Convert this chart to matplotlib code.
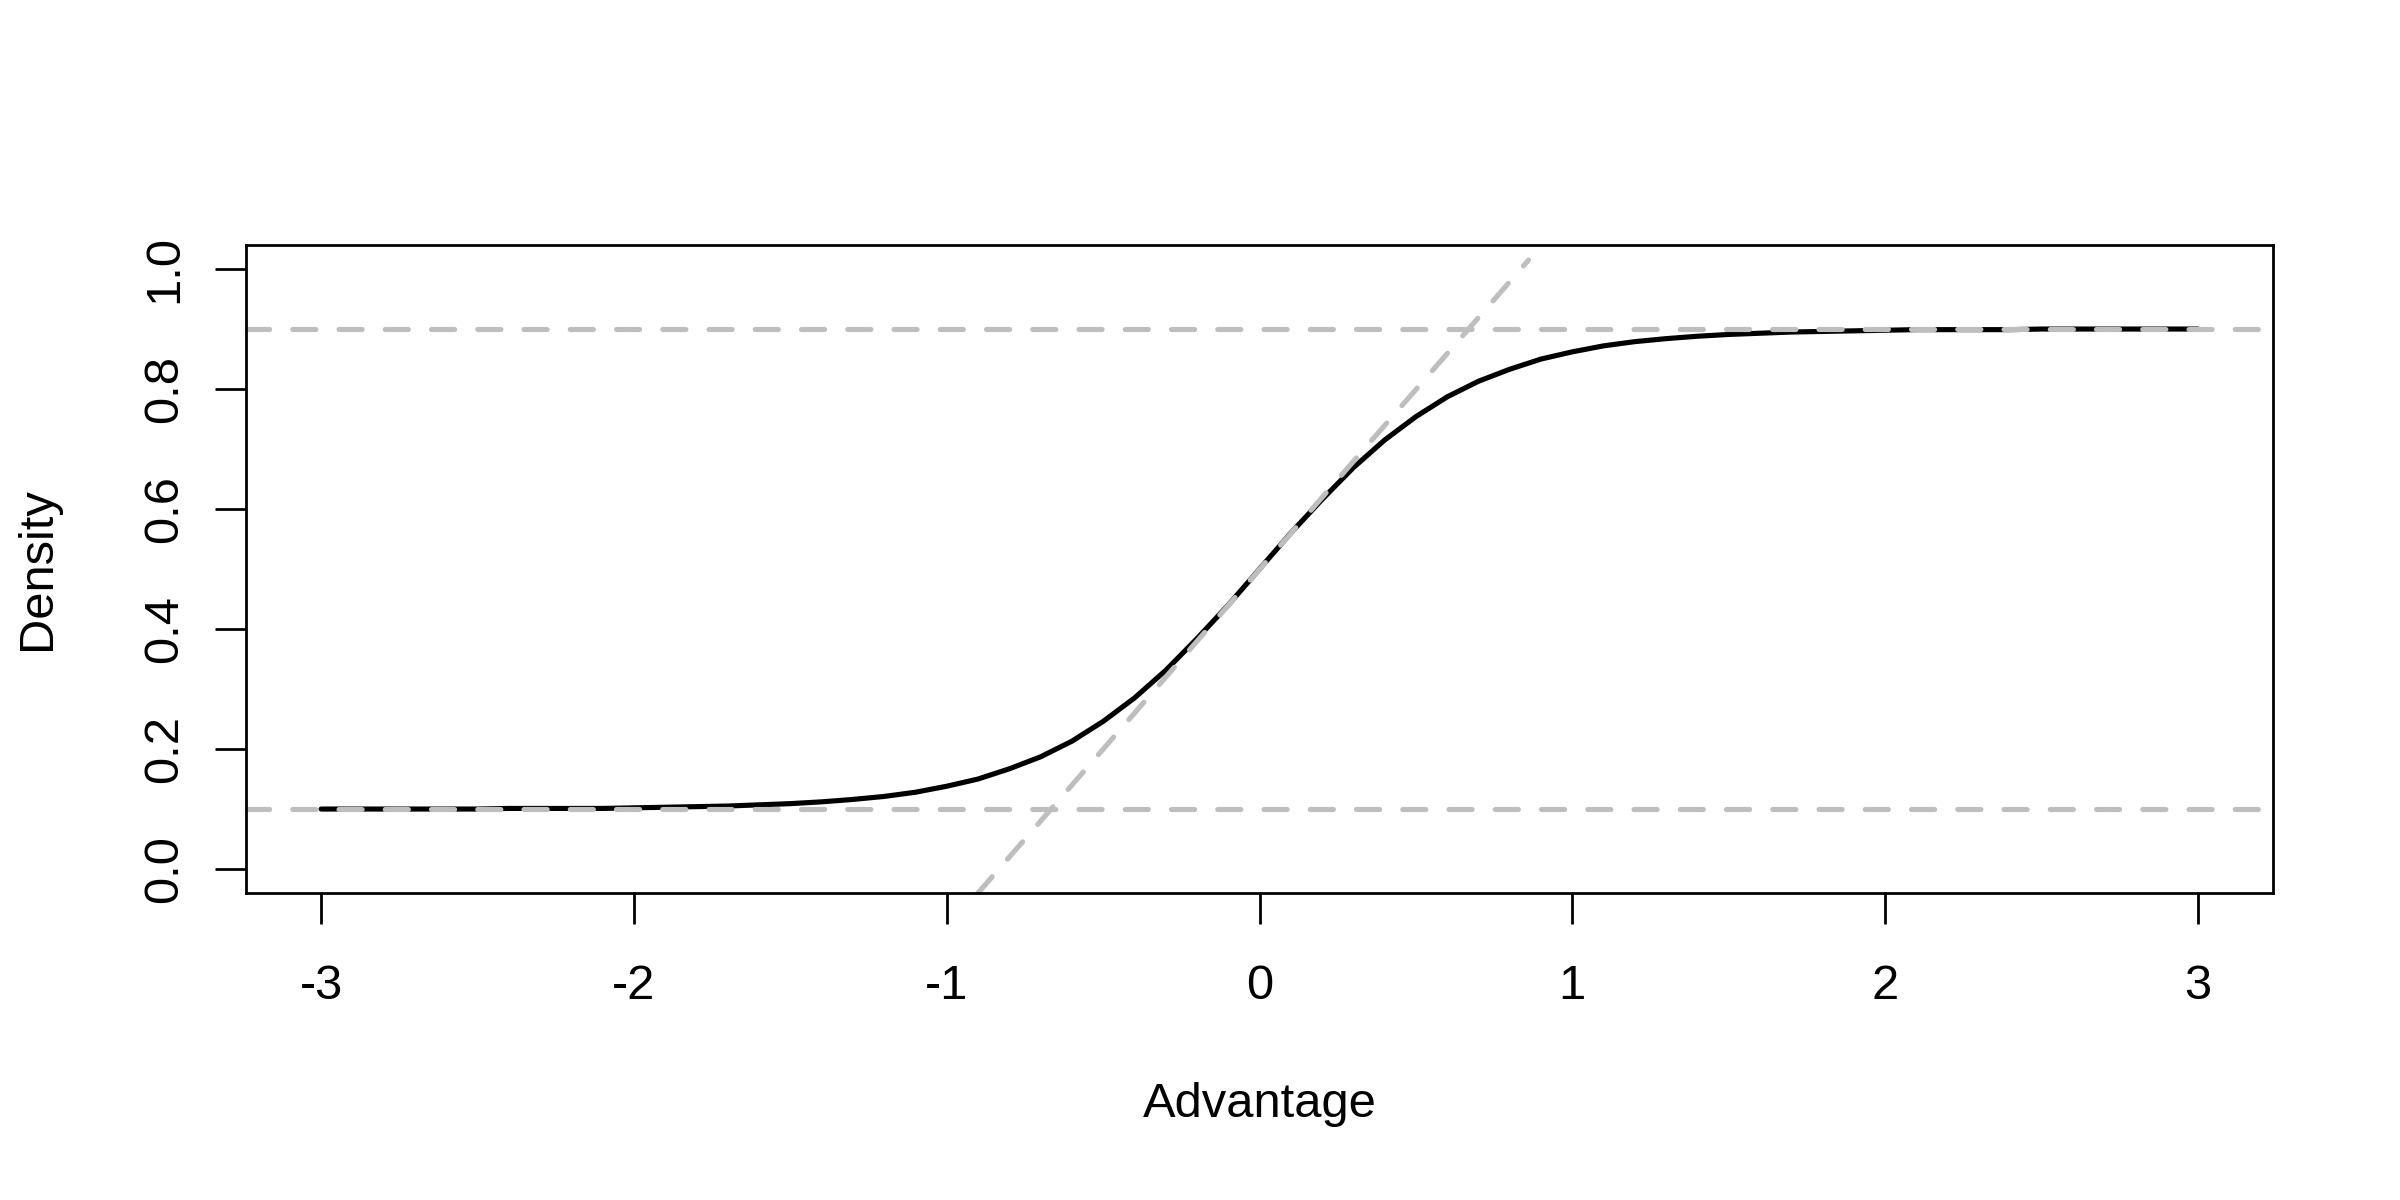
import matplotlib
matplotlib.use("Agg")
import matplotlib.pyplot as plt

plt.rcParams["font.family"] = ["Liberation Sans", "DejaVu Sans"]

# curva (Advantage vs Density)
advantage = [-3.0, -2.9, -2.8, -2.7, -2.6, -2.5, -2.4, -2.3, -2.2, -2.1,
             -2.0, -1.9, -1.8, -1.7, -1.6, -1.5, -1.4, -1.3, -1.2, -1.1,
             -1.0, -0.9, -0.8, -0.7, -0.6, -0.5, -0.4, -0.3, -0.2, -0.1,
             0.0, 0.1, 0.2, 0.3, 0.4, 0.5, 0.6, 0.7, 0.8, 0.9,
             1.0, 1.1, 1.2, 1.3, 1.4, 1.5, 1.6, 1.7, 1.8, 1.9,
             2.0, 2.1, 2.2, 2.3, 2.4, 2.5, 2.6, 2.7, 2.8, 2.9, 3.0]
density = [0.100, 0.100, 0.100, 0.100, 0.100, 0.100, 0.101, 0.101, 0.101, 0.101,
           0.102, 0.103, 0.104, 0.105, 0.107, 0.109, 0.112, 0.116, 0.121, 0.128,
           0.138, 0.150, 0.167, 0.187, 0.213, 0.246, 0.285, 0.331, 0.384, 0.440,
           0.500, 0.560, 0.616, 0.669, 0.715, 0.754, 0.787, 0.813, 0.833, 0.850,
           0.862, 0.872, 0.879, 0.884, 0.888, 0.891, 0.893, 0.895, 0.896, 0.897,
           0.898, 0.899, 0.899, 0.899, 0.899, 0.900, 0.900, 0.900, 0.900, 0.900, 0.900]

# asintotas y tangente en 0
asintotas = [0.1, 0.9]
tangente_x = [-1.0, 0.86]
tangente_y = [-0.10, 1.015]

xticks = [-3, -2, -1, 0, 1, 2, 3]
yticks = [0.0, 0.2, 0.4, 0.6, 0.8, 1.0]
yticklabels = ["0.0", "0.2", "0.4", "0.6", "0.8", "1.0"]

gris = "#BEBEBE"
lw = 1.85
guiones = (0, (4.5, 4.5))

fig = plt.figure(figsize=(12, 6), dpi=200)
ax = fig.add_axes([0.1025, 0.2558, 0.9471 - 0.1025, 0.7958 - 0.2558])

ax.plot(advantage, density, color="black", linewidth=lw, solid_capstyle="round",
        solid_joinstyle="round")
for h in asintotas:
    ax.axhline(h, color=gris, linewidth=lw, linestyle=guiones, dash_capstyle="round")
ax.plot(tangente_x, tangente_y, color=gris, linewidth=lw, linestyle=guiones,
        dash_capstyle="round")

ax.set_xlim(-3.24, 3.24)
ax.set_ylim(-0.04, 1.04)
ax.set_xticks(xticks)
ax.set_xticklabels([str(t) for t in xticks])
ax.set_yticks(yticks)
ax.set_yticklabels(yticklabels, rotation=90, va="center")

for s in ax.spines.values():
    s.set_linewidth(1.0)
ax.tick_params(axis="both", direction="out", length=11.2, width=1.0,
               labelsize=17.6, colors="black")
ax.tick_params(axis="x", pad=14.5)
ax.tick_params(axis="y", pad=10)

fig.text((0.1025 + 0.9471) / 2, 1 - 1117 / 1200, "Advantage", ha="center",
         va="baseline", fontsize=17.6)
fig.text(38 / 2400, 1 - 569 / 1200, "Density", ha="center", va="center",
         rotation=90, fontsize=17.6)

fig.savefig("out.png", dpi=200, facecolor="white")
